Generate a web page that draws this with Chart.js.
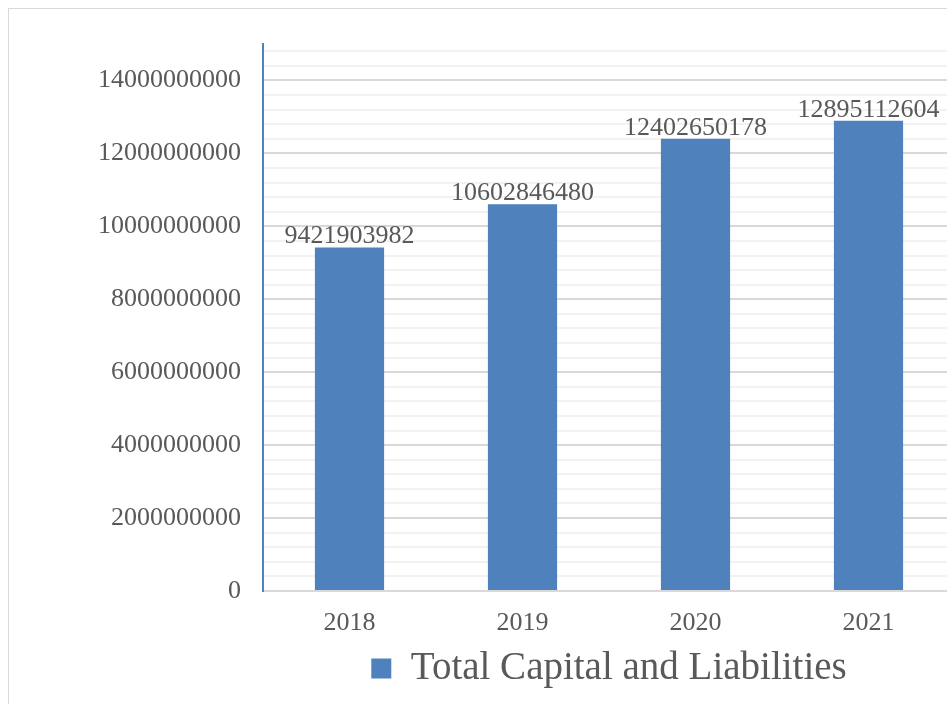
<!DOCTYPE html>
<html>
<head>
<meta charset="utf-8">
<script src="https://cdn.jsdelivr.net/npm/chart.js@4/dist/chart.umd.min.js"></script>
<style>
  body { margin: 0; overflow: hidden; background: #fff; }
  #frame { position: absolute; left: 8px; top: 8px; width: 1200px; height: 1200px; border: 1px solid #d9d9d9; }
  #wrap { position: absolute; left: 0; top: 0; width: 955px; height: 704px; }
</style>
</head>
<body>
<div id="frame"></div>
<div id="wrap"><canvas id="capChart"></canvas></div>
<script>
const years = ['2018', '2019', '2020', '2021'];
const totals = [9421903982, 10602846480, 12402650178, 12895112604];
const seriesName = 'Total Capital and Liabilities';
const yMax = 15000000000;
const minorStep = 400000000;
const minorPerMajor = 5; // labelled line every 2000000000

const textColor = '#595959';
const barColor = '#4f81bd';

const isMajor = v => Math.round(v / minorStep) % minorPerMajor === 0;

// value labels on top of each bar
const barLabels = {
    id: 'barLabels',
    afterDatasetsDraw(chart) {
        const ctx = chart.ctx;
        const meta = chart.getDatasetMeta(0);
        ctx.save();
        ctx.font = '26px "Liberation Serif"';
        ctx.fillStyle = textColor;
        ctx.textAlign = 'center';
        ctx.textBaseline = 'alphabetic';
        meta.data.forEach((bar, i) => {
            ctx.fillText(String(chart.data.datasets[0].data[i]), bar.x, bar.y - 4);
        });
        ctx.restore();
    }
};

new Chart(document.getElementById('capChart'), {
    type: 'bar',
    data: {
        labels: years,
        datasets: [{
            label: seriesName,
            data: totals,
            backgroundColor: barColor,
            barPercentage: 0.4,
            categoryPercentage: 1
        }]
    },
    options: {
        responsive: true,
        maintainAspectRatio: false,
        animation: false,
        layout: { padding: { top: 44, left: 0, right: 0, bottom: 6 } },
        plugins: {
            legend: {
                position: 'bottom',
                fullSize: false,
                labels: {
                    color: textColor,
                    font: { family: 'Liberation Serif', size: 39 },
                    boxWidth: 20,
                    boxHeight: 20,
                    padding: 10
                }
            },
            tooltip: { enabled: false }
        },
        scales: {
            x: {
                afterFit(scale) { scale.height = 48; },
                grid: { display: false, drawTicks: false },
                border: { color: '#d9d9d9', width: 2 },
                ticks: {
                    color: textColor,
                    padding: 17,
                    font: { family: 'Liberation Serif', size: 26 }
                }
            },
            y: {
                min: 0,
                max: yMax,
                afterFit(scale) { scale.width = 263; },
                // keep every line on a multiple of minorStep, plus the top edge
                afterBuildTicks(scale) {
                    const ticks = [];
                    for (let k = 0; k * minorStep < yMax; k++) ticks.push({ value: k * minorStep });
                    ticks.push({ value: yMax });
                    scale.ticks = ticks;
                },
                border: { color: barColor, width: 2 },
                grid: {
                    drawTicks: false,
                    lineWidth: 2,
                    color(c) {
                        const v = c.tick.value;
                        if (v >= yMax) return 'rgba(0,0,0,0)';
                        return isMajor(v) ? '#d9d9d9' : '#f2f2f2';
                    }
                },
                ticks: {
                    autoSkip: false,
                    padding: 22,
                    color: textColor,
                    font: { family: 'Liberation Serif', size: 26 },
                    callback(v) {
                        return isMajor(v) && v < yMax ? String(v) : '';
                    }
                }
            }
        }
    },
    plugins: [barLabels]
});
</script>
</body>
</html>
